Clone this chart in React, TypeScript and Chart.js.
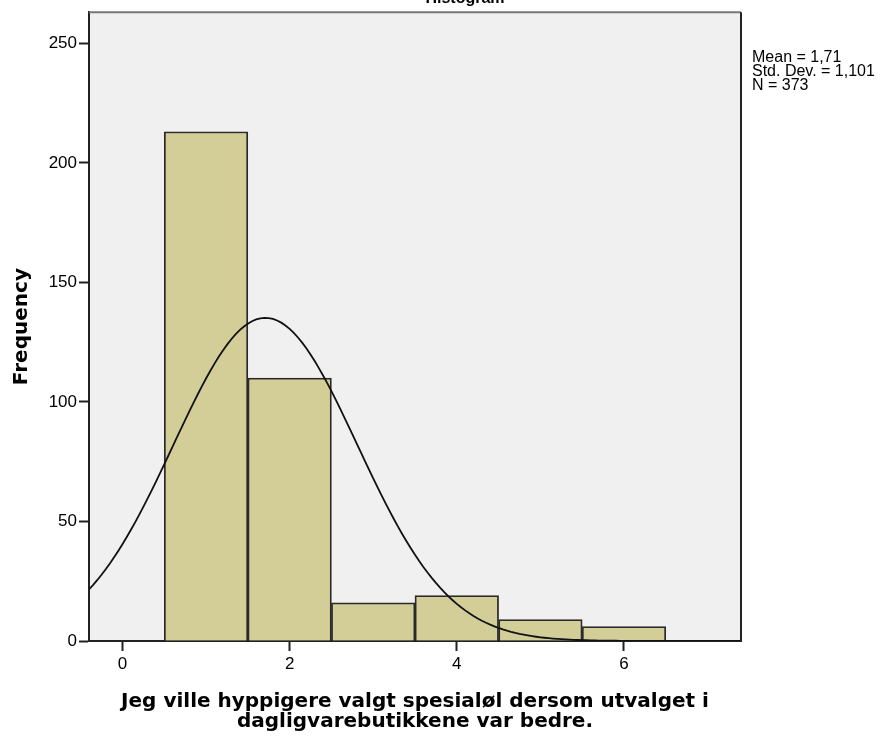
import React, { useEffect, useRef } from "react";
import { Chart, registerables } from "chart.js";

Chart.register(...registerables);

// Frequencies per response value
const categories = [1, 2, 3, 4, 5, 6];
const frequencies = [213, 110, 16, 19, 9, 6];

// Summary statistics shown beside the plot
const mean = 1.71;
const stdDev = 1.101;
const n = 373;
const statLines = ["Mean = 1,71", "Std. Dev. = 1,101", "N = 373"];

const xTicks = [0, 2, 4, 6];
const yTicks = [0, 50, 100, 150, 200, 250];
const xRange = [-0.4, 7.4];
const yMax = 263;

const titleText = "Histogram";
const xTitle = [
  "Jeg ville hyppigere valgt spesialøl dersom utvalget i",
  "dagligvarebutikkene var bedre.",
];
const yTitle = "Frequency";

// Normal curve scaled to counts (bin width 1)
function normalCurve() {
  const pts: { x: number; y: number }[] = [];
  const steps = 156;
  for (let i = 0; i <= steps; i++) {
    const x = xRange[0] + ((xRange[1] - xRange[0]) * i) / steps;
    const z = (x - mean) / stdDev;
    const y = (n / (stdDev * Math.sqrt(2 * Math.PI))) * Math.exp(-0.5 * z * z);
    pts.push({ x, y });
  }
  return pts;
}

const SANS = "'Liberation Sans', Arial, sans-serif";
const BOLD = "'DejaVu Sans', Verdana, sans-serif";

const framePlugin = {
  id: "frame",
  beforeDraw(chart: any) {
    const { ctx, chartArea: a } = chart;
    ctx.save();
    ctx.fillStyle = "#f0f0f0";
    ctx.fillRect(a.left, a.top, a.right - a.left, a.bottom - a.top);
    ctx.restore();
  },
  afterDraw(chart: any) {
    const { ctx, chartArea: a } = chart;
    ctx.save();
    ctx.lineWidth = 2;
    ctx.strokeStyle = "#777";
    ctx.beginPath();
    ctx.moveTo(a.left, a.top);
    ctx.lineTo(a.right, a.top);
    ctx.stroke();
    ctx.strokeStyle = "#222";
    ctx.beginPath();
    ctx.moveTo(a.right, a.top);
    ctx.lineTo(a.right, a.bottom);
    ctx.stroke();
    // title, partly above the page edge
    ctx.fillStyle = "#000";
    ctx.font = `bold 16px ${SANS}`;
    ctx.textAlign = "center";
    ctx.textBaseline = "alphabetic";
    ctx.fillText(titleText, 465, 3);
    // statistics
    ctx.font = `16px ${SANS}`;
    ctx.textAlign = "left";
    ctx.textBaseline = "alphabetic";
    statLines.forEach((s, i) => ctx.fillText(s, a.right + 11, 62 + i * 14));
    ctx.restore();
  },
};

export default function App() {
  const ref = useRef<HTMLCanvasElement>(null);

  useEffect(() => {
    if (!ref.current) return;
    const chart = new Chart(ref.current, {
      type: "bar",
      data: {
        datasets: [
          {
            type: "line",
            data: normalCurve(),
            borderColor: "#111",
            borderWidth: 1.8,
            pointRadius: 0,
            tension: 0,
            order: 0,
          } as any,
          {
            type: "bar",
            data: categories.map((c, i) => ({ x: c, y: frequencies[i] })),
            backgroundColor: "#d3ce97",
            borderColor: "#2a2a2a",
            borderWidth: 1.8,
            barPercentage: 1,
            categoryPercentage: 1,
            order: 1,
          } as any,
        ],
      },
      plugins: [framePlugin],
      options: {
        responsive: false,
        animation: false,
        devicePixelRatio: 1,
        layout: { padding: { left: 0, top: 12, right: 146, bottom: 0 } },
        plugins: {
          legend: { display: false },
          tooltip: { enabled: false },
          title: { display: false },
        },
        scales: {
          x: {
            type: "linear",
            offset: false,
            min: xRange[0],
            max: xRange[1],
            afterBuildTicks: (s: any) => {
              s.ticks = xTicks.map((v) => ({ value: v }));
            },
            afterFit: (s: any) => {
              s.height = 97;
            },
            grid: {
              offset: false,
              drawOnChartArea: false,
              drawTicks: true,
              tickLength: 10,
              tickWidth: 2,
              color: "#222",
            },
            border: { display: true, color: "#222", width: 2 },
            ticks: {
              color: "#000",
              font: { family: SANS, size: 17 },
              padding: 3,
              maxRotation: 0,
            },
            title: {
              display: true,
              text: xTitle,
              color: "#000",
              font: { family: BOLD, size: 20, weight: "bold", lineHeight: 1.0 },
              padding: { top: 0, bottom: 6.5 },
            },
          },
          y: {
            type: "linear",
            min: 0,
            max: yMax,
            afterBuildTicks: (s: any) => {
              s.ticks = yTicks.map((v) => ({ value: v }));
            },
            afterFit: (s: any) => {
              s.width = 89;
            },
            grid: {
              drawOnChartArea: false,
              drawTicks: true,
              tickLength: 10,
              tickWidth: 2,
              color: "#222",
            },
            border: { display: true, color: "#222", width: 2 },
            ticks: {
              color: "#000",
              font: { family: SANS, size: 17 },
              padding: 2,
            },
            title: {
              display: true,
              text: yTitle,
              color: "#000",
              font: { family: BOLD, size: 20, weight: "bold", lineHeight: 1.0 },
              padding: { top: 12, bottom: 0 },
            },
          },
        },
      } as any,
    });
    return () => chart.destroy();
  }, []);

  return (
    <div style={{ position: "fixed", left: 0, top: 0, width: 887, height: 738, background: "#fff" }}>
      <canvas ref={ref} width={887} height={738} />
    </div>
  );
}
